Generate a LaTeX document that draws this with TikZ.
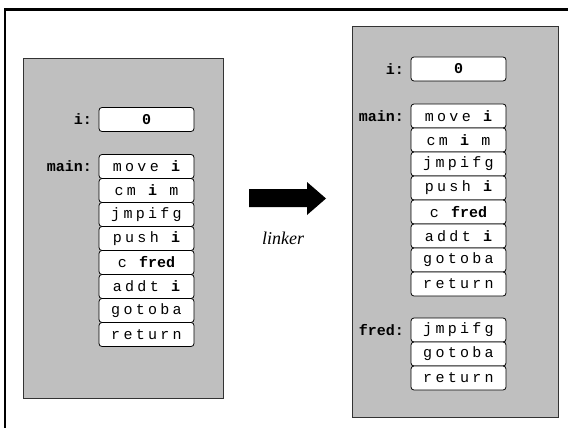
\documentclass[tikz,border=0pt]{standalone}
\usepackage{fontspec}
\setmainfont{Liberation Serif}
\newfontfamily\codefont[LetterSpace=22]{Liberation Mono}
\newfontfamily\labelfont{Liberation Mono}
\usetikzlibrary{positioning}
\newcommand{\bv}[1]{{\labelfont\bfseries #1}}

\begin{document}
\begin{tikzpicture}[x=1pt,y=-1pt,
    panel/.style={fill=black!25,draw=black!80,line width=1pt},
    cell/.style={draw,fill=white,rounded corners=3pt,line width=0.8pt,minimum width=95pt,minimum height=24pt,inner sep=0pt,outer sep=0pt,font=\fontsize{15}{15}\selectfont\codefont},
    lbl/.style={inner sep=0pt,font=\fontsize{15}{15}\selectfont\labelfont\bfseries}]
  \useasboundingbox (0,0) rectangle (568,428);
  % frame
  \draw [line width=2.5pt] (5,428) -- (5,9.5) -- (568,9.5);
  % before linking
  \draw [panel] (23,59) rectangle (223,398);
  \node [cell] (iL) at (146.5,119.5) {\bv{0}};
  \node [lbl, left=7pt of iL] {i:};
  \node [cell] (mainL) at (146.5,166.5) {move \bv{i}};
  \node [lbl, left=7pt of mainL] {main:};
  \node [cell, below=0pt of mainL] (cmL) {cm \bv{i} m};
  \node [cell, below=0pt of cmL] (jmpL) {jmpifg};
  \node [cell, below=0pt of jmpL] (pushL) {push \bv{i}};
  \node [cell, below=0pt of pushL] (callL) {c \bv{fred}};
  \node [cell, below=0pt of callL] (addtL) {addt \bv{i}};
  \node [cell, below=0pt of addtL] (gotoL) {gotoba};
  \node [cell, below=0pt of gotoL] (retL) {return};
  % linker
  \fill (249,189) -- (307,189) -- (307,182) -- (326,198.5) -- (307,215) -- (307,207) -- (249,207) -- cycle;
  \node at (283,238) {\fontsize{18}{18}\selectfont\itshape linker};
  % after linking
  \draw [panel] (352,27) rectangle (558,417);
  \node [cell] (iR) at (458.5,69) {\bv{0}};
  \node [lbl, left=7pt of iR] {i:};
  \node [cell] (mainR) at (458.5,116) {move \bv{i}};
  \node [lbl, left=7pt of mainR] {main:};
  \node [cell, below=0pt of mainR] (cmR) {cm \bv{i} m};
  \node [cell, below=0pt of cmR] (jmpR) {jmpifg};
  \node [cell, below=0pt of jmpR] (pushR) {push \bv{i}};
  \node [cell, below=0pt of pushR] (callR) {c \bv{fred}};
  \node [cell, below=0pt of callR] (addtR) {addt \bv{i}};
  \node [cell, below=0pt of addtR] (gotoR) {gotoba};
  \node [cell, below=0pt of gotoR] (retR) {return};
  \node [cell] (fredR) at (458.5,330) {jmpifg};
  \node [lbl, left=7pt of fredR] {fred:};
  \node [cell, below=0pt of fredR] (fgotoR) {gotoba};
  \node [cell, below=0pt of fgotoR] (fretR) {return};
\end{tikzpicture}
\end{document}
